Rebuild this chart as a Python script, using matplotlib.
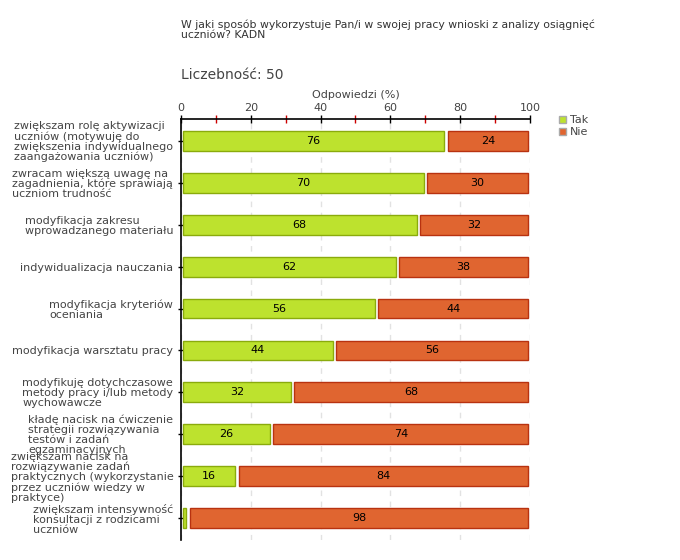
import matplotlib
matplotlib.use("Agg")
import matplotlib.pyplot as plt
import numpy as np
from matplotlib.patches import Patch

categories = [
    "zwiększam rolę aktywizacji\nuczniów (motywuję do\nzwiększenia indywidualnego\nzaangażowania uczniów)",
    "zwracam większą uwagę na\nzagadnienia, które sprawiają\nuczniom trudność",
    "modyfikacja zakresu\nwprowadzanego materiału",
    "indywidualizacja nauczania",
    "modyfikacja kryteriów\noceniania",
    "modyfikacja warsztatu pracy",
    "modyfikuję dotychczasowe\nmetody pracy i/lub metody\nwychowawcze",
    "kładę nacisk na ćwiczenie\nstrategii rozwiązywania\ntestów i zadań\negzaminacyjnych",
    "zwiększam nacisk na\nrozwiązywanie zadań\npraktycznych (wykorzystanie\nprzez uczniów wiedzy w\npraktyce)",
    "zwiększam intensywność\nkonsultacji z rodzicami\nuczniów",
]
tak = [76, 70, 68, 62, 56, 44, 32, 26, 16, 2]
nie = [24, 30, 32, 38, 44, 56, 68, 74, 84, 98]
series_names = ["Tak", "Nie"]
x_ticks = [0, 20, 40, 60, 80, 100]

green, green_edge = "#bde22e", "#8aab0c"
orange, orange_edge = "#e06530", "#b83210"
txt = "#444444"

fig = plt.figure(figsize=(6.8, 5.6), dpi=100)
ax = fig.add_axes([181/680, 1-540/560, (530-181)/680, (540-119)/560])

y = np.arange(len(categories))
h = 0.47
gap = 0.5
tak_a = np.array(tak, float)
nie_a = np.array(nie, float)
ax.barh(y, tak_a - 2*gap, left=gap, height=h, color=green, edgecolor=green_edge, linewidth=1, zorder=3)
ax.barh(y, nie_a - 2*gap, left=tak_a + gap, height=h, color=orange, edgecolor=orange_edge, linewidth=1, zorder=3)

for i in range(len(categories)):
    if tak[i] >= 5:
        ax.text(tak[i]/2, y[i], str(tak[i]), ha="center", va="center", fontsize=8, color="black", zorder=4)
    if nie[i] >= 5:
        ax.text(tak[i] + nie[i]/2, y[i], str(nie[i]), ha="center", va="center", fontsize=8, color="black", zorder=4)

ax.set_xlim(0, 100)
ax.set_ylim(len(categories) - 0.475, -0.525)
ax.xaxis.tick_top()
ax.xaxis.set_label_position("top")
ax.set_xticks(x_ticks)
ax.set_xticks([10, 30, 50, 70, 90], minor=True)
ax.tick_params(axis="x", which="major", direction="inout", length=6, width=1, colors="black",
               labelcolor=txt, labelsize=8, pad=1)
ax.tick_params(axis="x", which="minor", direction="inout", length=6, width=1, colors="#cc0000")
ax.set_xlabel("Odpowiedzi (%)", fontsize=8, color=txt, labelpad=4)

ax.set_yticks(y)
ax.set_yticklabels(categories, fontsize=8, color=txt, linespacing=1.0, multialignment="left")
ax.tick_params(axis="y", direction="inout", length=5, width=1, colors="black", labelcolor=txt, pad=3)

for s in ["right", "bottom"]:
    ax.spines[s].set_visible(False)
for s in ["top", "left"]:
    ax.spines[s].set_color("black")
    ax.spines[s].set_linewidth(1.2)

ax.grid(axis="x", which="major", color="#e2e2e2", linestyle=(0, (4, 4)), linewidth=1, zorder=0)
ax.set_axisbelow(True)

handles = [Patch(facecolor=green, edgecolor="#aaaaaa"), Patch(facecolor=orange, edgecolor="#aaaaaa")]
fig.legend(handles, series_names, loc="upper left", bbox_to_anchor=(559/680, 1-115/560), frameon=False,
           fontsize=8, handlelength=0.6, handleheight=0.6, handletextpad=0.4, labelspacing=0.2,
           labelcolor=txt, borderpad=0, borderaxespad=0)

fig.text(181/680, 1-20/560, "W jaki sposób wykorzystuje Pan/i w swojej pracy wnioski z analizy osiągnięć\nuczniów? KADN",
         fontsize=7.8, color="#333333", va="top", ha="left", linespacing=1.0)
fig.text(181/680, 1-75/560, "Liczebność: 50", fontsize=10, color="#444444", va="center", ha="left")

fig.savefig("out.png", dpi=100)
